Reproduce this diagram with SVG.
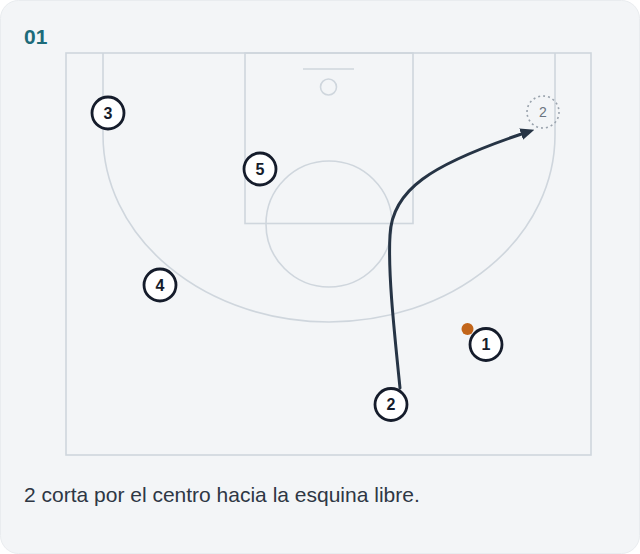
<svg xmlns="http://www.w3.org/2000/svg" width="640" height="554" viewBox="0 0 640 554">
  <style>
    .court { fill: none; stroke: #cfd6dd; stroke-width: 1.6; }
    .player circle { fill: #ffffff; stroke: #151c2b; stroke-width: 2.8; }
    .player text { font-family: "Liberation Sans", Arial, sans-serif; font-weight: bold; font-size: 16px; fill: #151c2b; text-anchor: middle; }
    .ghost circle { fill: none; stroke: #9aa3ad; stroke-width: 1.6; stroke-dasharray: 2 3; }
    .ghost text { font-family: "Liberation Sans", Arial, sans-serif; font-size: 14px; fill: #6b7480; text-anchor: middle; }
    .move { fill: none; stroke: #263445; stroke-width: 3; stroke-linecap: round; }
  </style>
  <defs>
    <marker id="arrow" viewBox="0 0 14 12" markerWidth="14" markerHeight="12" markerUnits="userSpaceOnUse" refX="2" refY="6" orient="auto">
      <path d="M0,0 L14,6 L0,12 z" fill="#263445"/>
    </marker>
  </defs>
  <rect x="0" y="0" width="640" height="554" fill="#ffffff"/>
  <rect x="0.5" y="0.5" width="639" height="553" rx="18" ry="18" fill="#f3f5f7" stroke="#e9ecef" stroke-width="1"/>
  <text x="24" y="44" font-family="Liberation Sans, Arial, sans-serif" font-weight="bold" font-size="21" fill="#1d6b7a">01</text>

  <g id="court">
    <rect class="court" x="66" y="53" width="525" height="402" stroke-width="2"/>
    <rect class="court" x="245" y="53" width="168" height="170.5"/>
    <circle class="court" cx="329" cy="224" r="63"/>
    <line class="court" x1="303" y1="69" x2="354" y2="69"/>
    <circle class="court" cx="328.5" cy="87" r="8"/>
    <path class="court" d="M103 53 L103 135 A226 187 0 0 0 555 135 L555 53"/>
  </g>

  <g id="connectors">
    <path class="move" d="M400 388 C393 320 388 270 390 235 C392 190 430 165 523 133.5" marker-end="url(#arrow)"/>
  </g>

  <g id="ball">
    <circle cx="467.5" cy="329" r="6" fill="#c2651a"/>
  </g>

  <g id="ghost-2" class="ghost">
    <circle cx="543" cy="112" r="16"/>
    <text x="543" y="117">2</text>
  </g>
  <g id="player-3" class="player">
    <circle cx="108" cy="113" r="16"/>
    <text x="108" y="118.8">3</text>
  </g>
  <g id="player-5" class="player">
    <circle cx="260" cy="169" r="16"/>
    <text x="260" y="174.8">5</text>
  </g>
  <g id="player-4" class="player">
    <circle cx="160" cy="285" r="16"/>
    <text x="160" y="290.8">4</text>
  </g>
  <g id="player-1" class="player">
    <circle cx="486" cy="344.5" r="16"/>
    <text x="486" y="350.3">1</text>
  </g>
  <g id="player-2" class="player">
    <circle cx="391" cy="404.5" r="16"/>
    <text x="391" y="410.3">2</text>
  </g>

  <text x="24" y="502" font-family="Liberation Sans, Arial, sans-serif" font-size="21" fill="#2e3744">2 corta por el centro hacia la esquina libre.</text>
</svg>
